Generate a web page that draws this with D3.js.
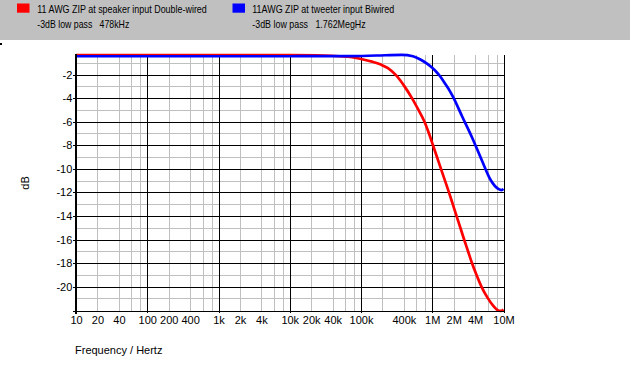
<!DOCTYPE html>
<html><head><meta charset="utf-8">
<script src="https://cdn.jsdelivr.net/npm/d3@7"></script>
<style>
html,body{margin:0;padding:0;background:#fff;}
svg{display:block;}
text{font-family:"Liberation Sans",Arial,sans-serif;font-size:11px;fill:#000;}
</style></head><body>
<svg id="chart" width="630" height="365"></svg>
<script>
// ---- data ----
const seriesNames = ["11 AWG ZIP at speaker input Double-wired", "11AWG ZIP at tweeter input Biwired"];
const cutoffPrefix = "-3dB low pass";
const cutoffLabels = ["478kHz", "1.762MegHz"];
const seriesColors = ["#ff0000", "#0000ff"];

const redFreq = [10, 1000, 10000, 30000, 50000, 74700, 100000, 142600, 190000, 239000, 309600, 407700, 519000, 640000, 778000, 900000, 1024000, 1165000, 1325000, 1508000, 1716000, 1940000, 2190000, 2480000, 2800000, 3180000, 3610000, 4170000, 4900000, 6050000, 7110000, 8630000, 9300000, 10000000];
const redDb   = [-0.34, -0.34, -0.35, -0.38, -0.44, -0.52, -0.68, -0.9, -1.15, -1.45, -2.05, -3.0, -4.0, -5.0, -6.0, -7.0, -8.0, -9.0, -10.0, -11.0, -12.0, -13.0, -14.0, -15.0, -16.0, -17.0, -18.0, -19.0, -20.0, -21.0, -21.6, -22.05, -22.06, -21.95];

const blueFreq = [10, 1000, 10000, 70000, 166000, 372000, 536000, 672000, 835000, 981000, 1153000, 1280000, 1510000, 1760000, 1950000, 2650000, 3660000, 5060000, 6600000, 8440000, 9420000, 10000000];
const blueDb   = [-0.44, -0.44, -0.44, -0.43, -0.38, -0.33, -0.44, -0.7, -1.05, -1.38, -1.8, -2.12, -2.75, -3.38, -3.88, -5.6, -7.4, -9.4, -10.95, -11.7, -11.8, -11.7];

const xTickValues = [10, 20, 40, 100, 200, 400, 1e3, 2e3, 4e3, 1e4, 2e4, 4e4, 1e5, 4e5, 1e6, 2e6, 4e6, 1e7];
const xTickLabels = ["10", "20", "40", "100", "200", "400", "1k", "2k", "4k", "10k", "20k", "40k", "100k", "400k", "1M", "2M", "4M", "10M"];
const yTickValues = [-2, -4, -6, -8, -10, -12, -14, -16, -18, -20];
const yTickLabels = ["-2", "-4", "-6", "-8", "-10", "-12", "-14", "-16", "-18", "-20"];
const xDomain = [10, 1e7];
const yDomain = [-22.07, -0.336];
const xAxisTitle = "Frequency / Hertz";
const yAxisTitle = "dB";

// ---- layout ----
const svg = d3.select("#chart");
const L = 76, R = 503.5, T = 55, B = 311;
const x = d3.scaleLog().domain(xDomain).range([L, R]);
const y = d3.scaleLinear().domain(yDomain).range([B, T]);
const GRAY = "#c0c0c0";

// header band
svg.append("rect").attr("x", 0).attr("y", 0).attr("width", 630).attr("height", 40).attr("fill", GRAY);
svg.append("rect").attr("x", 0).attr("y", 43).attr("width", 2).attr("height", 2).attr("fill", "#000");

// legend
const nameW = [169.5, 142], line2W = [92, 113.4];
const lx = [37.3, 252.3], sx = [17, 232.5];
seriesNames.forEach((n, i) => {
  svg.append("rect").attr("x", sx[i]).attr("y", 3.5).attr("width", 12.5).attr("height", 9.2).attr("fill", seriesColors[i]);
  svg.append("text").attr("x", lx[i]).attr("y", 12.6).attr("textLength", nameW[i]).attr("lengthAdjust", "spacingAndGlyphs").text(n);
  svg.append("text").attr("x", lx[i]).attr("y", 28).style("white-space", "pre")
    .attr("textLength", line2W[i]).attr("lengthAdjust", "spacingAndGlyphs")
    .text(cutoffPrefix + "   " + cutoffLabels[i]);
});

// grid
const g = svg.append("g").attr("shape-rendering", "crispEdges");
const minorX = [];
for (let k = 1; k < 7; k++) for (const m of [2, 4, 6, 8]) minorX.push(m * Math.pow(10, k));
const majorX = d3.range(2, 8).map(k => Math.pow(10, k));
const yInts = d3.range(-1, -22, -1);
g.selectAll(".vmin").data(minorX).join("line")
  .attr("x1", d => Math.round(x(d)) + 0.5).attr("x2", d => Math.round(x(d)) + 0.5)
  .attr("y1", T).attr("y2", B).attr("stroke", GRAY);
g.selectAll(".hmin").data(yInts.filter(d => d % 2 !== 0)).join("line")
  .attr("x1", L).attr("x2", R).attr("y1", d => Math.round(y(d)) + 0.5).attr("y2", d => Math.round(y(d)) + 0.5)
  .attr("stroke", GRAY);
g.selectAll(".hmaj").data(yInts.filter(d => d % 2 === 0)).join("line")
  .attr("x1", L).attr("x2", R).attr("y1", d => Math.round(y(d)) + 0.5).attr("y2", d => Math.round(y(d)) + 0.5)
  .attr("stroke", "#000");
g.selectAll(".vmaj").data(majorX).join("line")
  .attr("x1", d => Math.round(x(d)) + 0.5).attr("x2", d => Math.round(x(d)) + 0.5)
  .attr("y1", T).attr("y2", B + 2).attr("stroke", "#000");

// curves
const line = d3.line().x(d => x(d[0])).y(d => y(d[1])).curve(d3.curveMonotoneX);
const series = [d3.zip(redFreq, redDb), d3.zip(blueFreq, blueDb)];
series.forEach((s, i) => {
  svg.append("path").datum(s).attr("d", line).attr("fill", "none")
    .attr("stroke", seriesColors[i]).attr("stroke-width", 2.7).attr("stroke-linejoin", "round");
});

// axes
const xAxis = d3.axisBottom(x).tickValues(xTickValues).tickFormat((d, i) => xTickLabels[i]).tickSize(0).tickPadding(5.3);
const xg = svg.append("g").attr("transform", `translate(0,${B})`).call(xAxis);
xg.select(".domain").remove();
xg.selectAll("text").attr("font-family", null).attr("font-size", null);

const yAxis = d3.axisLeft(y).tickValues(yTickValues).tickFormat((d, i) => yTickLabels[i]).tickSize(3).tickPadding(0.7);
const yg = svg.append("g").attr("transform", `translate(${L},0)`).call(yAxis);
yg.select(".domain").remove();
yg.selectAll("line").attr("stroke", "#000").attr("shape-rendering", "crispEdges");
yg.selectAll("text").attr("font-family", null).attr("font-size", null);

const ax = svg.append("g").attr("shape-rendering", "crispEdges");
ax.append("line").attr("x1", L - 3).attr("x2", R).attr("y1", B + 0.5).attr("y2", B + 0.5).attr("stroke", "#000");
ax.append("rect").attr("x", L - 1).attr("y", T - 1).attr("width", 2).attr("height", B - T + 4).attr("fill", "#000");

// titles
svg.append("text").attr("x", 75).attr("y", 354).text(xAxisTitle);
svg.append("text").attr("transform", "translate(29,183) rotate(-90)").attr("text-anchor", "middle").text(yAxisTitle);
</script>
</body></html>
